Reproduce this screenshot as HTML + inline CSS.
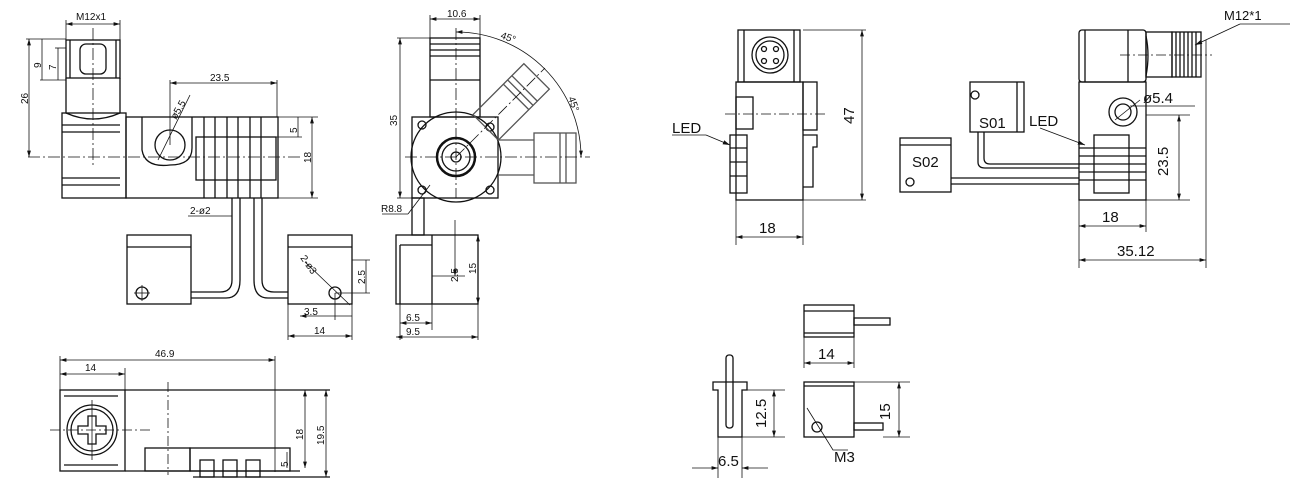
<!DOCTYPE html>
<html><head><meta charset="utf-8"><style>
html,body{margin:0;padding:0;background:#fff;}
svg{display:block;}
text{font-family:"Liberation Sans",sans-serif;fill:#111;}
</style></head><body>
<svg width="1300" height="489" viewBox="0 0 1300 489" xmlns="http://www.w3.org/2000/svg">
<defs>
<marker id="a" viewBox="0 0 10 6" refX="10" refY="3" markerWidth="8" markerHeight="5" orient="auto-start-reverse"><path d="M0,0L10,3L0,6z" fill="#111"/></marker>
</defs>
<g fill="none" stroke="#111" stroke-width="1.3">
<rect x="66" y="40" width="54" height="38"/>
<line x1="70" y1="40" x2="70" y2="78"/><line x1="116" y1="40" x2="116" y2="78"/>
<rect x="80" y="44" width="26" height="30" rx="6"/>
<path d="M66 78 L66 113 Q93 125 120 113 L120 78"/>
<rect x="62" y="113" width="64" height="85"/>
<line x1="62" y1="125" x2="120" y2="125"/><line x1="62" y1="132" x2="120" y2="132"/>
<line x1="62" y1="178" x2="120" y2="178"/><line x1="62" y1="185" x2="120" y2="185"/>
<rect x="126" y="117" width="152" height="81"/>
<path d="M142 117 L142 150 Q145 168 170 165 Q192 165 192 148 L192 117"/>
<circle cx="170" cy="145" r="15"/>
<rect x="196" y="137" width="80" height="43"/>
<line x1="204" y1="117" x2="204" y2="198"/><line x1="215" y1="117" x2="215" y2="198"/><line x1="227" y1="117" x2="227" y2="198"/><line x1="238" y1="117" x2="238" y2="198"/><line x1="250" y1="117" x2="250" y2="198"/><line x1="261" y1="117" x2="261" y2="198"/>
<line x1="28" y1="157" x2="300" y2="157" stroke-dasharray="12,3,2,3" stroke-width="0.8"/>
<line x1="93" y1="28" x2="93" y2="165" stroke-dasharray="12,3,2,3" stroke-width="0.8"/>
<line x1="66" y1="20" x2="66" y2="40" stroke-width="0.8"/><line x1="120" y1="20" x2="120" y2="40" stroke-width="0.8"/>
<line x1="66" y1="24" x2="120" y2="24" marker-start="url(#a)" marker-end="url(#a)" stroke-width="0.8"/>
<line x1="26" y1="39" x2="66" y2="39" stroke-width="0.8"/>
<line x1="29" y1="39" x2="29" y2="157" marker-start="url(#a)" marker-end="url(#a)" stroke-width="0.8"/>
<line x1="40" y1="80" x2="66" y2="80" stroke-width="0.8"/><line x1="55" y1="48" x2="66" y2="48" stroke-width="0.8"/>
<line x1="42" y1="39" x2="42" y2="80" stroke-width="0.8"/><line x1="58" y1="48" x2="58" y2="80" stroke-width="0.8"/>
<line x1="170" y1="80" x2="170" y2="145" stroke-width="0.8"/><line x1="277" y1="80" x2="277" y2="117" stroke-width="0.8"/>
<line x1="170" y1="83" x2="277" y2="83" marker-start="url(#a)" marker-end="url(#a)" stroke-width="0.8"/>
<line x1="158" y1="160" x2="190" y2="95" stroke-width="0.8"/>
<line x1="278" y1="117" x2="318" y2="117" stroke-width="0.8"/><line x1="278" y1="198" x2="318" y2="198" stroke-width="0.8"/>
<line x1="276" y1="137" x2="302" y2="137" stroke-width="0.8"/>
<line x1="312" y1="117" x2="312" y2="198" marker-start="url(#a)" marker-end="url(#a)" stroke-width="0.8"/>
<line x1="298" y1="117" x2="298" y2="137" stroke-width="0.8"/>
<path d="M232 198 V280 Q232 292 220 292 H191"/><path d="M240 198 V280 Q240 298 226 298 H191"/>
<path d="M254 198 V280 Q254 298 268 298 H288"/><path d="M262 198 V280 Q262 292 274 292 H288"/>
<line x1="188" y1="216" x2="232" y2="216" stroke-width="0.8"/>
<rect x="127" y="235" width="64" height="69"/><line x1="127" y1="247" x2="191" y2="247"/>
<circle cx="142" cy="293" r="6"/><line x1="134" y1="293" x2="150" y2="293" stroke-width="0.8"/><line x1="142" y1="285" x2="142" y2="301" stroke-width="0.8"/>
<rect x="288" y="235" width="64" height="69"/><line x1="288" y1="247" x2="352" y2="247"/>
<circle cx="335" cy="293" r="6"/><line x1="305" y1="262" x2="350" y2="305" stroke-width="0.8"/>
<line x1="335" y1="293" x2="370" y2="293" stroke-width="0.8"/><line x1="352" y1="260" x2="370" y2="260" stroke-width="0.8"/>
<line x1="366" y1="260" x2="366" y2="293" stroke-width="0.8"/>
<line x1="335" y1="293" x2="335" y2="320" stroke-width="0.8"/><line x1="352" y1="304" x2="352" y2="340" stroke-width="0.8"/><line x1="288" y1="304" x2="288" y2="340" stroke-width="0.8"/>
<line x1="300" y1="316" x2="352" y2="316" marker-start="url(#a)" stroke-width="0.8"/>
<line x1="288" y1="336" x2="352" y2="336" marker-start="url(#a)" marker-end="url(#a)" stroke-width="0.8"/>
<rect x="430" y="38" width="50" height="79"/>
<line x1="430" y1="44" x2="480" y2="44"/><line x1="430" y1="50" x2="480" y2="50"/><line x1="430" y1="56" x2="480" y2="56"/><line x1="430" y1="80" x2="480" y2="80"/>
<rect x="412" y="117" width="86" height="81"/>
<circle cx="456" cy="157" r="45"/>
<circle cx="456" cy="157" r="19" stroke-width="2.5"/><circle cx="456" cy="157" r="14"/><circle cx="456" cy="157" r="5"/>
<circle cx="422" cy="125" r="4"/><circle cx="490" cy="127" r="4"/><circle cx="490" cy="190" r="4"/><circle cx="422" cy="190" r="4"/>
<g transform="rotate(45 456 157)" stroke="#555">
<rect x="438" y="43" width="36" height="72"/><line x1="438" y1="60" x2="474" y2="60"/><line x1="438" y1="66" x2="474" y2="66"/><line x1="438" y1="72" x2="474" y2="72"/>
</g>
<g stroke="#555">
<rect x="534" y="133" width="42" height="50"/>
<line x1="560" y1="133" x2="560" y2="183"/><line x1="566" y1="133" x2="566" y2="183"/>
<line x1="498" y1="140" x2="534" y2="140"/><line x1="498" y1="175" x2="534" y2="175"/>
</g>
<line x1="405" y1="157" x2="590" y2="157" stroke-dasharray="12,3,2,3" stroke-width="0.8"/>
<line x1="456" y1="28" x2="456" y2="198" stroke-dasharray="12,3,2,3" stroke-width="0.8"/>
<line x1="456" y1="157" x2="545" y2="68" stroke-dasharray="12,3,2,3" stroke-width="0.8"/>
<path d="M456 32 A125 125 0 0 1 581 157" stroke-width="0.8" marker-start="url(#a)" marker-end="url(#a)"/>
<line x1="430" y1="15" x2="430" y2="38" stroke-width="0.8"/><line x1="480" y1="15" x2="480" y2="38" stroke-width="0.8"/>
<line x1="430" y1="19" x2="480" y2="19" marker-start="url(#a)" marker-end="url(#a)" stroke-width="0.8"/>
<line x1="397" y1="38" x2="430" y2="38" stroke-width="0.8"/><line x1="397" y1="198" x2="412" y2="198" stroke-width="0.8"/>
<line x1="400" y1="38" x2="400" y2="198" marker-start="url(#a)" marker-end="url(#a)" stroke-width="0.8"/>
<line x1="382" y1="214" x2="408" y2="214" stroke-width="0.8"/><line x1="408" y1="214" x2="430" y2="185" stroke-width="0.8"/>
<rect x="412" y="198" width="12" height="37"/>
<rect x="396" y="235" width="82" height="69"/>
<line x1="400" y1="245" x2="400" y2="304"/><line x1="432" y1="235" x2="432" y2="304"/><line x1="400" y1="245" x2="432" y2="245"/>
<line x1="455" y1="220" x2="455" y2="276" stroke-width="0.8" marker-end="url(#a)"/>
<line x1="432" y1="276" x2="465" y2="276" stroke-width="0.8"/>
<line x1="478" y1="235" x2="478" y2="304" marker-start="url(#a)" marker-end="url(#a)" stroke-width="0.8"/>
<line x1="400" y1="304" x2="400" y2="340" stroke-width="0.8"/><line x1="432" y1="304" x2="432" y2="330" stroke-width="0.8"/><line x1="478" y1="304" x2="478" y2="340" stroke-width="0.8"/>
<line x1="400" y1="323" x2="432" y2="323" marker-start="url(#a)" marker-end="url(#a)" stroke-width="0.8"/>
<line x1="396" y1="337" x2="478" y2="337" marker-start="url(#a)" marker-end="url(#a)" stroke-width="0.8"/>
<line x1="60" y1="356" x2="60" y2="390" stroke-width="0.8"/><line x1="275" y1="356" x2="275" y2="472" stroke-width="0.8"/><line x1="125" y1="368" x2="125" y2="390" stroke-width="0.8"/>
<line x1="60" y1="360" x2="275" y2="360" marker-start="url(#a)" marker-end="url(#a)" stroke-width="0.8"/>
<line x1="60" y1="374" x2="125" y2="374" marker-start="url(#a)" marker-end="url(#a)" stroke-width="0.8"/>
<rect x="60" y="390" width="65" height="81"/>
<line x1="64" y1="396" x2="118" y2="396"/><line x1="64" y1="465" x2="118" y2="465"/>
<circle cx="92" cy="430" r="25"/><circle cx="92" cy="430" r="21"/>
<path d="M88 416 h8 v10 h10 v8 h-10 v10 h-8 v-10 h-10 v-8 h10z"/>
<line x1="50" y1="430" x2="150" y2="430" stroke-dasharray="10,3,2,3" stroke-width="0.8"/>
<line x1="92" y1="400" x2="92" y2="460" stroke-width="0.8"/>
<line x1="125" y1="390" x2="330" y2="390"/><line x1="125" y1="471" x2="300" y2="471"/>
<line x1="168" y1="382" x2="168" y2="475" stroke-dasharray="10,3,2,3" stroke-width="0.8"/>
<rect x="145" y="448" width="45" height="23"/><rect x="190" y="448" width="100" height="23"/>
<rect x="200" y="460" width="14" height="17"/><rect x="223" y="460" width="14" height="17"/><rect x="246" y="460" width="14" height="17"/>
<line x1="193" y1="477" x2="330" y2="477"/>
<line x1="305" y1="390" x2="305" y2="468" marker-start="url(#a)" marker-end="url(#a)" stroke-width="0.8"/>
<line x1="326" y1="390" x2="326" y2="477" marker-start="url(#a)" marker-end="url(#a)" stroke-width="0.8"/>
<line x1="287" y1="452" x2="287" y2="468" stroke-width="0.8"/>
<rect x="738" y="30" width="62" height="52"/>
<line x1="744" y1="30" x2="744" y2="82"/><line x1="794" y1="30" x2="794" y2="82"/>
<circle cx="770" cy="55" r="18"/><circle cx="770" cy="55" r="14"/>
<circle cx="764" cy="49" r="2.5"/><circle cx="776" cy="49" r="2.5"/><circle cx="764" cy="61" r="2.5"/><circle cx="776" cy="61" r="2.5"/>
<rect x="736" y="82" width="67" height="118"/>
<rect x="803" y="82" width="14" height="48"/>
<rect x="736" y="97" width="17" height="32"/>
<rect x="730" y="135" width="17" height="58"/><line x1="730" y1="148" x2="747" y2="148"/><line x1="730" y1="162" x2="747" y2="162"/><line x1="730" y1="176" x2="747" y2="176"/>
<path d="M803 135 h14 v12 h-4 v40 h-10"/>
<line x1="725" y1="114" x2="825" y2="114" stroke-dasharray="10,3,2,3" stroke-width="0.8"/>
<line x1="803" y1="30" x2="866" y2="30" stroke-width="0.8"/><line x1="803" y1="200" x2="866" y2="200" stroke-width="0.8"/>
<line x1="862" y1="30" x2="862" y2="200" marker-start="url(#a)" marker-end="url(#a)" stroke-width="0.8"/>
<line x1="736" y1="200" x2="736" y2="245" stroke-width="0.8"/><line x1="803" y1="200" x2="803" y2="245" stroke-width="0.8"/>
<line x1="736" y1="237" x2="803" y2="237" marker-start="url(#a)" marker-end="url(#a)" stroke-width="0.8"/>
<line x1="672" y1="135" x2="706" y2="135" stroke-width="0.8"/><line x1="706" y1="135" x2="730" y2="145" stroke-width="0.9" marker-end="url(#a)"/>
<rect x="1079" y="30" width="67" height="52" rx="3"/>
<line x1="1085" y1="30" x2="1085" y2="82"/><line x1="1128" y1="30" x2="1128" y2="82"/>
<path d="M1146 36 Q1150 55 1146 76"/>
<rect x="1146" y="32" width="26" height="45"/>
<rect x="1172" y="32" width="29" height="45"/>
<line x1="1176" y1="32" x2="1176" y2="77"/><line x1="1180" y1="32" x2="1180" y2="77"/><line x1="1184" y1="32" x2="1184" y2="77"/><line x1="1188" y1="32" x2="1188" y2="77"/><line x1="1192" y1="32" x2="1192" y2="77"/><line x1="1196" y1="32" x2="1196" y2="77"/>
<line x1="1120" y1="55" x2="1212" y2="55" stroke-dasharray="10,3,2,3" stroke-width="0.8"/>
<rect x="1079" y="82" width="67" height="118"/>
<circle cx="1123" cy="112" r="14"/><circle cx="1123" cy="112" r="8"/>
<rect x="1094" y="135" width="35" height="58"/>
<line x1="1079" y1="148" x2="1146" y2="148"/><line x1="1079" y1="156" x2="1146" y2="156"/><line x1="1079" y1="164" x2="1146" y2="164"/><line x1="1079" y1="172" x2="1146" y2="172"/><line x1="1079" y1="180" x2="1146" y2="180"/>
<line x1="1130" y1="106" x2="1195" y2="106" stroke-width="0.8"/><line x1="1115" y1="120" x2="1140" y2="100" stroke-width="0.8"/>
<line x1="1146" y1="115" x2="1190" y2="115" stroke-width="0.8"/><line x1="1146" y1="200" x2="1190" y2="200" stroke-width="0.8"/>
<line x1="1179" y1="115" x2="1179" y2="200" marker-start="url(#a)" marker-end="url(#a)" stroke-width="0.8"/>
<line x1="1240" y1="24" x2="1290" y2="24" stroke-width="0.8"/><line x1="1240" y1="24" x2="1195" y2="45" stroke-width="0.9" marker-end="url(#a)"/>
<line x1="1079" y1="200" x2="1079" y2="268" stroke-width="0.8"/><line x1="1146" y1="200" x2="1146" y2="232" stroke-width="0.8"/><line x1="1206" y1="40" x2="1206" y2="268" stroke-width="0.8"/>
<line x1="1079" y1="226" x2="1146" y2="226" marker-start="url(#a)" marker-end="url(#a)" stroke-width="0.8"/>
<line x1="1079" y1="260" x2="1206" y2="260" marker-start="url(#a)" marker-end="url(#a)" stroke-width="0.8"/>
<line x1="1040" y1="128" x2="1085" y2="145" stroke-width="0.9" marker-end="url(#a)"/>
<rect x="970" y="82" width="54" height="50"/><line x1="1017" y1="82" x2="1017" y2="132"/>
<circle cx="975" cy="95" r="4"/>
<rect x="900" y="138" width="51" height="54"/><line x1="900" y1="145" x2="951" y2="145"/>
<circle cx="910" cy="182" r="4"/>
<path d="M978 132 V162 Q978 168 985 168 H1079"/><path d="M984 132 V158 Q984 164 990 164 H1079"/>
<line x1="951" y1="178" x2="1079" y2="178"/><line x1="951" y1="184" x2="1079" y2="184"/>
<rect x="804" y="305" width="50" height="32"/><line x1="804" y1="311" x2="854" y2="311"/><line x1="804" y1="333" x2="854" y2="333"/>
<rect x="854" y="318" width="36" height="7"/>
<line x1="804" y1="337" x2="804" y2="368" stroke-width="0.8"/><line x1="854" y1="337" x2="854" y2="368" stroke-width="0.8"/>
<line x1="804" y1="363" x2="854" y2="363" marker-start="url(#a)" marker-end="url(#a)" stroke-width="0.8"/>
<rect x="804" y="382" width="50" height="55"/><line x1="804" y1="386" x2="854" y2="386"/>
<rect x="854" y="423" width="29" height="7"/>
<circle cx="817" cy="427" r="5"/><path d="M807 408 L833 450 H848" stroke-width="0.8"/>
<line x1="854" y1="382" x2="910" y2="382" stroke-width="0.8"/><line x1="883" y1="437" x2="910" y2="437" stroke-width="0.8"/>
<line x1="899" y1="382" x2="899" y2="437" marker-start="url(#a)" marker-end="url(#a)" stroke-width="0.8"/>
<path d="M713 390 V382 H747 V390 H742 V437 H718 V390 Z"/>
<rect x="726" y="355" width="7" height="73" rx="3"/>
<line x1="742" y1="390" x2="785" y2="390" stroke-width="0.8"/><line x1="718" y1="437" x2="785" y2="437" stroke-width="0.8"/>
<line x1="774" y1="390" x2="774" y2="437" marker-start="url(#a)" marker-end="url(#a)" stroke-width="0.8"/>
<line x1="718" y1="437" x2="718" y2="478" stroke-width="0.8"/><line x1="742" y1="437" x2="742" y2="478" stroke-width="0.8"/>
<line x1="692" y1="468" x2="718" y2="468" marker-end="url(#a)" stroke-width="0.8"/><line x1="768" y1="468" x2="742" y2="468" marker-end="url(#a)" stroke-width="0.8"/>
</g>
<g font-size="10">
<text x="76" y="20">M12x1</text>
<text x="28" y="104" transform="rotate(-90 28 104)">26</text>
<text x="41" y="68" transform="rotate(-90 41 68)">9</text>
<text x="56" y="70" transform="rotate(-90 56 70)">7</text>
<text x="210" y="81">23.5</text>
<text x="176" y="120" transform="rotate(-60 176 120)">ø5.5</text>
<text x="297" y="133" transform="rotate(-90 297 133)">5</text>
<text x="311" y="163" transform="rotate(-90 311 163)">18</text>
<text x="190" y="214">2-ø2</text>
<text x="300" y="258" transform="rotate(55 300 258)">2-ø3</text>
<text x="365" y="284" transform="rotate(-90 365 284)">2.5</text>
<text x="304" y="315">3.5</text>
<text x="314" y="334">14</text>
<text x="447" y="17">10.6</text>
<text x="500" y="38" transform="rotate(20 500 38)">45°</text>
<text x="568" y="98" transform="rotate(70 568 98)">45°</text>
<text x="397" y="126" transform="rotate(-90 397 126)">35</text>
<text x="381" y="212">R8.8</text>
<text x="458" y="282" transform="rotate(-90 458 282)">2.5</text>
<text x="476" y="274" transform="rotate(-90 476 274)">15</text>
<text x="406" y="321">6.5</text>
<text x="406" y="335">9.5</text>
<text x="155" y="357">46.9</text>
<text x="85" y="371">14</text>
<text x="303" y="440" transform="rotate(-90 303 440)">18</text>
<text x="324" y="445" transform="rotate(-90 324 445)">19.5</text>
<text x="288" y="467" transform="rotate(-90 288 467)">5</text>
</g>
<g font-size="15">
<text x="672" y="133">LED</text>
<text x="854" y="124" transform="rotate(-90 854 124)">47</text>
<text x="759" y="233">18</text>
<text x="1224" y="20" font-size="13">M12*1</text>
<text x="1143" y="103">ø5.4</text>
<text x="1029" y="126">LED</text>
<text x="1168" y="176" transform="rotate(-90 1168 176)">23.5</text>
<text x="1102" y="222">18</text>
<text x="1117" y="256">35.12</text>
<text x="979" y="128">S01</text>
<text x="912" y="167">S02</text>
<text x="818" y="359">14</text>
<text x="890" y="420" transform="rotate(-90 890 420)">15</text>
<text x="766" y="428" transform="rotate(-90 766 428)">12.5</text>
<text x="718" y="466">6.5</text>
<text x="834" y="462">M3</text>
</g>
</svg>
</body></html>
